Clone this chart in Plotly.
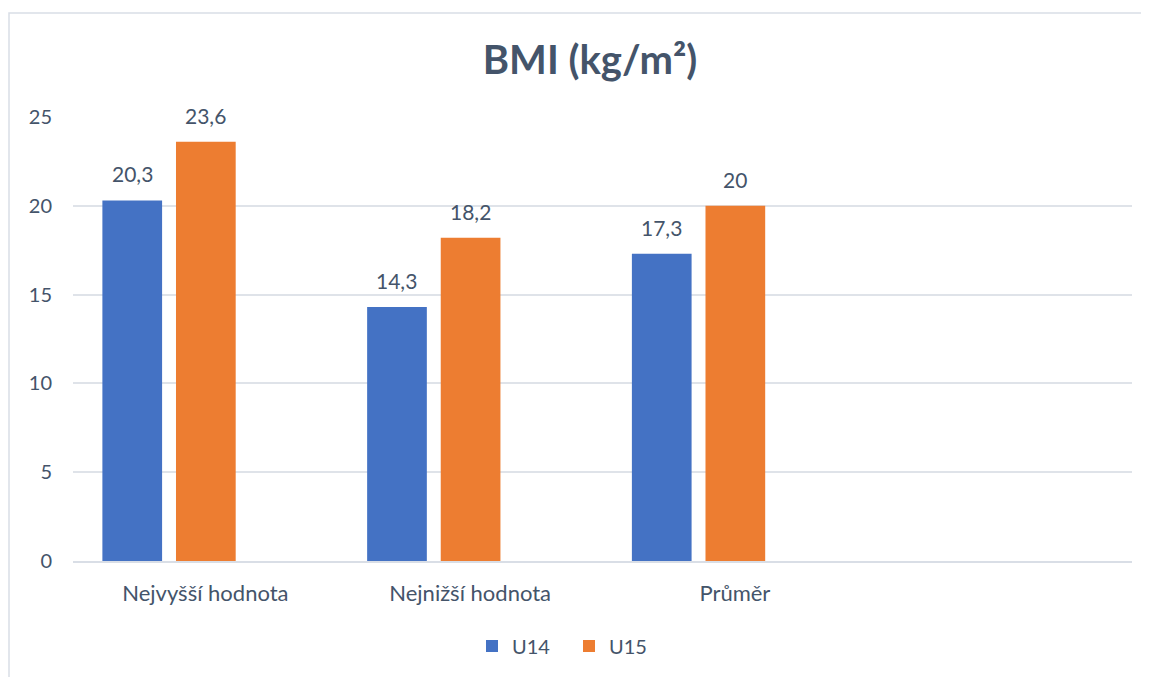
import plotly.graph_objects as go

categories = ["Nejvyšší hodnota", "Nejnižší hodnota", "Průměr"]
u14 = [20.3, 14.3, 17.3]
u15 = [23.6, 18.2, 20.0]
series_names = ["U14", "U15"]
y_ticks = [0, 5, 10, 15, 20, 25]
title_text = "BMI (kg/m²)"


def fmt(v):
    return f"{v:g}".replace(".", ",")


TEXT = "#44546A"
FONT = "Lato"
W, H = 1149, 677
L, T, R_EDGE, B_EDGE = 65, 109, 1124, 553
PW, PH = R_EDGE - L, B_EDGE - T
CAT_PX = PW / 4
BAR_W = 0.2255
OFFSETS = [-0.389, -0.111]
COLORS = ["#4472C4", "#ED7D31"]

fig = go.Figure()
annotations = []
for name, vals, off, col in zip(series_names, [u14, u15], OFFSETS, COLORS):
    fig.add_trace(go.Bar(
        x=categories, y=vals, name=name,
        marker=dict(color=col, line=dict(width=0)),
        width=BAR_W, offset=off,
    ))
    for c, v in zip(categories, vals):
        annotations.append(dict(
            x=c, y=v, xref="x", yref="y", text=fmt(v), showarrow=False,
            xanchor="center", yanchor="bottom",
            xshift=(off + BAR_W / 2) * CAT_PX, yshift=12,
            font=dict(family=FONT, size=21, color=TEXT),
        ))

fig.update_layout(
    width=W, height=H,
    margin=dict(l=L, r=W - R_EDGE, t=T, b=H - B_EDGE),
    paper_bgcolor="white", plot_bgcolor="white",
    barmode="overlay",
    font=dict(family=FONT, size=20, color=TEXT),
    title=dict(text="<b>" + title_text + "</b>", x=582 / W, xanchor="center",
               y=1 - 52 / H, yanchor="middle", yref="container",
               font=dict(family=FONT, size=40, color=TEXT)),
    legend=dict(orientation="h", x=(561 - L) / PW, xanchor="center",
                y=(B_EDGE - 638) / PH, yanchor="middle",
                font=dict(family=FONT, size=20, color=TEXT),
                entrywidth=52, traceorder="normal"),
    xaxis=dict(type="category", range=[-0.5, 3.5], showgrid=False, ticks="",
               showline=True, linecolor="#D9DEE6", linewidth=1.5,
               tickfont=dict(family=FONT, size=22, color=TEXT), ticklabelstandoff=12,
               zeroline=False),
    yaxis=dict(range=[0, 25], tickvals=y_ticks, showgrid=True, gridcolor="#DFE3E9",
               gridwidth=1.5, zeroline=False, showline=False, ticks="",
               tickfont=dict(family=FONT, size=20, color=TEXT), ticklabelstandoff=20),
    annotations=annotations,
    shapes=[dict(type="rect", xref="paper", yref="paper",
                 x0=(1 - L) / PW, x1=1.2, y0=-0.5, y1=1 + (T - 5) / PH,
                 line=dict(color="#D9DEE6", width=1.5), fillcolor="rgba(0,0,0,0)",
                 layer="below")],
)

fig.write_html("out.html")
